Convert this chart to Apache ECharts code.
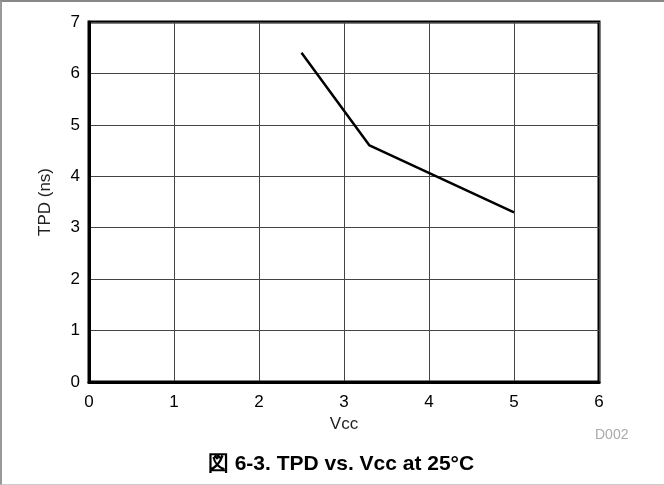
<!DOCTYPE html>
<html>
<head>
<meta charset="utf-8">
<script src="https://cdn.jsdelivr.net/npm/echarts@6/dist/echarts.min.js"></script>
<style>
  html, body { margin: 0; padding: 0; background: #fff; }
  #chart {
    width: 664px;
    height: 485px;
    box-sizing: border-box;
    border-top: 2px solid #888;
    border-left: 2px solid #999;
    border-bottom: 1px solid #ccc;
  }
</style>
</head>
<body>
<div id="chart"></div>
<script>
// TPD vs Vcc at 25°C
const vcc = [2.5, 3.3, 5.0]
const tpd = [6.4, 4.6, 3.3]

const xTicks = [0, 1, 2, 3, 4, 5, 6]
const yTicks = [0, 1, 2, 3, 4, 5, 6, 7]

const titleText = '図 6-3. TPD vs. Vcc at 25°C'
const xName = 'Vcc'
const yName = 'TPD (ns)'
const code = 'D002'

const chart = echarts.init(document.getElementById('chart'), null, { renderer: 'canvas' })

const font = 'Liberation Sans, Arial, Helvetica, sans-serif'

const option = {
  backgroundColor: '#fff',
  animation: false,
  textStyle: { fontFamily: font },
  title: {
    text: titleText,
    left: 334,
    textAlign: 'center',
    top: 447,
    textStyle: {
      fontFamily: font,
      fontSize: 21,
      fontWeight: 'bold',
      color: '#000'
    }
  },
  grid: {
    left: 87,
    top: 20,
    right: 65,
    bottom: 102,
    show: true,
    borderColor: '#000',
    borderWidth: 3
  },
  xAxis: {
    type: 'value',
    min: xTicks[0],
    max: xTicks[xTicks.length - 1],
    interval: 1,
    name: xName,
    nameLocation: 'middle',
    nameGap: 32,
    nameTextStyle: { color: '#222', fontSize: 17, fontFamily: font },
    axisLine: { show: true, lineStyle: { color: '#000', width: 3 } },
    axisTick: { show: false },
    axisLabel: { color: '#000', fontSize: 17, margin: 12, fontFamily: font },
    splitLine: { show: true, lineStyle: { color: '#444', width: 1 } }
  },
  yAxis: {
    type: 'value',
    min: yTicks[0],
    max: yTicks[yTicks.length - 1],
    interval: 1,
    name: yName,
    nameLocation: 'middle',
    nameGap: 35,
    nameTextStyle: { color: '#222', fontSize: 17, fontFamily: font },
    axisLine: { show: true, lineStyle: { color: '#000', width: 3 } },
    axisTick: { show: false },
    axisLabel: { color: '#000', fontSize: 17, margin: 9, fontFamily: font },
    splitLine: { show: true, lineStyle: { color: '#444', width: 1 } }
  },
  graphic: [
    {
      type: 'text',
      left: 593,
      top: 426,
      style: {
        text: code,
        fill: '#aaa',
        fontSize: 14,
        fontFamily: font
      }
    }
  ],
  series: [
    {
      type: 'line',
      data: vcc.map((v, i) => [v, tpd[i]]),
      symbol: 'none',
      lineStyle: { color: '#000', width: 2.5 }
    }
  ]
}

chart.setOption(option)
</script>
</body>
</html>
